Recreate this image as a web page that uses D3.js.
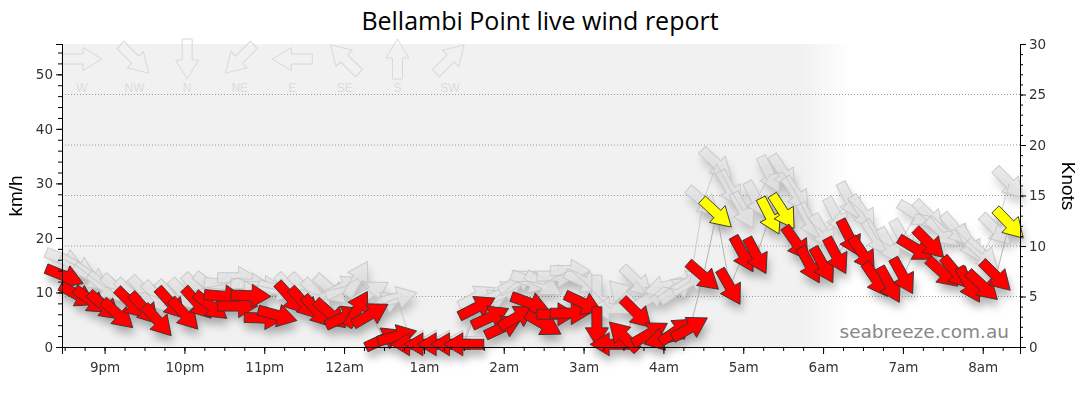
<!DOCTYPE html>
<html>
<head>
<meta charset="utf-8">
<script src="https://cdn.jsdelivr.net/npm/d3@7"></script>
<style>
  html, body { margin: 0; padding: 0; background: #fff; }
  svg { display: block; font-family: "Liberation Sans", Arial, sans-serif; }
  .axis text { font-family: "DejaVu Sans", Verdana, sans-serif; font-size: 13.5px; fill: #333; }
  .axis path, .axis line { stroke: #000; }
</style>
</head>
<body>
<div id="chart"></div>
<script>
// Observation times (10 minute readings, evening to morning)
const times = [
  "20:30","20:40","20:50","21:00","21:10","21:20","21:30","21:40","21:50",
  "22:00","22:10","22:20","22:30","22:40","22:50","23:00","23:10","23:20","23:30","23:40","23:50",
  "00:00","00:10","00:20","00:30","00:40","00:50","01:00","01:10","01:20","01:30","01:40","01:50",
  "02:00","02:10","02:20","02:30","02:40","02:50","03:00","03:10","03:20","03:30","03:40","03:50",
  "04:00","04:10","04:20","04:30","04:40","04:50","05:00","05:10","05:20","05:30","05:40","05:50",
  "06:00","06:10","06:20","06:30","06:40","06:50","07:00","07:10","07:20","07:30","07:40","07:50",
  "08:00","08:10","08:20"
];

// Average wind speed (km/h)
const windKmh = [
  13, 9.5, 8.5, 7.5, 6, 8, 7, 4.8, 8,
  6, 8, 7.5, 9.3, 7.5, 9.4, 5.3, 5.8, 9, 8, 6.5, 6,
  5.5, 7, 6, 1.5, 2, 0.5, 0.5, 0.5, 0.5, 0.5, 7.3, 5.5,
  3.7, 5.5, 8, 4.2, 6, 6.2, 8, 3.7, 0.5, 2, 6.2, 2.5,
  1.5, 3, 3.5, 13, 24.5, 11, 17, 16.7, 24, 24.8, 19, 15,
  15, 16.7, 20, 17, 12.3, 11.4, 13, 18, 19, 13.6, 13.6, 11.4,
  11.2, 13, 22.6
];

// Gust speed (km/h)
const gustKmh = [
  16, 14.7, 12.8, 11, 10.5, 9.6, 10, 9, 9.2,
  9.5, 10.5, 11, 11.5, 12.7, 11.5, 11, 10.5, 10.5, 10.5, 9.5, 10.5,
  11, 12.5, 10, 8, 9, 1, 1, 1, 1, 1, 9.2, 8.5,
  10, 12, 12, 11.5, 13, 14, 12, 9.5, 7, 9.5, 12, 9,
  11, 10.5, 12, 26.6, 33.6, 29, 25, 27, 31.6, 32, 28, 23,
  21, 24, 26.8, 24.6, 20, 18.5, 20, 24.4, 24, 21, 21.5, 19,
  17, 21.5, 30
];

// Direction the wind blows from (degrees)
const windDir = [
  292, 298, 305, 310, 312, 315, 318, 318, 318,
  318, 318, 308, 275, 270, 272, 272, 285, 318, 318, 318, 312,
  245, 210, 240, 245, 255, 90, 90, 90, 90, 90, 243, 245,
  245, 240, 290, 300, 270, 270, 295, 0, 90, 135, 315, 240,
  75, 235, 240, 311, 313, 330, 331, 332, 333, 327, 325, 332,
  331, 332, 333, 326, 326, 331, 331, 301, 315, 312, 320, 330,
  313, 315, 316
];

// Compass legend along the top
const legendLabels = ["W", "NW", "N", "NE", "E", "SE", "S", "SW"];
const legendDirs = [270, 315, 0, 45, 90, 135, 180, 225];

const kmhTicks = [0, 10, 20, 30, 40, 50];
const knotTicks = [0, 5, 10, 15, 20, 25, 30];
const nightEnd = "06:00";

document.addEventListener('DOMContentLoaded', function() {
    const W = 1080, H = 414;
    const margin = {top: 44, right: 60, bottom: 67, left: 62};
    const KMH_PER_KNOT = 1.852;

    // times after midnight belong to the next day
    function toDate(t) {
        const [h, m] = t.split(":").map(Number);
        return new Date(2024, 0, h >= 12 ? 1 : 2, h, m);
    }

    const data = times.map((t, i) => ({
        date: toDate(t), speed: windKmh[i], gust: gustKmh[i], dir: windDir[i]
    }));

    const svg = d3.select("#chart").append("svg")
        .attr("width", W).attr("height", H);

    const defs = svg.append("defs");

    const x = d3.scaleTime()
        .domain([new Date(2024, 0, 1, 20, 28), new Date(2024, 0, 2, 8, 28)])
        .range([margin.left, W - margin.right]);

    const yKn = d3.scaleLinear().domain([0, 30]).range([H - margin.bottom, margin.top]);
    const yKmh = d3.scaleLinear().domain([0, 30 * KMH_PER_KNOT]).range([H - margin.bottom, margin.top]);

    // Night shading fading out around sunrise
    const x0 = margin.left, x1 = W - margin.right;
    const fadeA = (x(d3.timeMinute.offset(toDate(nightEnd), -15)) - x0) / (x1 - x0);
    const fadeB = (x(d3.timeMinute.offset(toDate(nightEnd), 20)) - x0) / (x1 - x0);
    const grad = defs.append("linearGradient")
        .attr("id", "night")
        .attr("x1", 0).attr("x2", 1).attr("y1", 0).attr("y2", 0);
    grad.append("stop").attr("offset", fadeA).attr("stop-color", "#f1f1f1");
    grad.append("stop").attr("offset", fadeB).attr("stop-color", "#ffffff");

    svg.append("rect")
        .attr("x", x0).attr("y", margin.top)
        .attr("width", x1 - x0).attr("height", H - margin.bottom - margin.top)
        .attr("fill", "url(#night)");

    // Soft shadow, applied to one layer under all the arrows
    const shadow = defs.append("filter")
        .attr("id", "shadow")
        .attr("x", "-10%").attr("y", "-20%").attr("width", "120%").attr("height", "140%");
    shadow.append("feGaussianBlur").attr("in", "SourceAlpha").attr("stdDeviation", 4.5).attr("result", "blur");
    shadow.append("feOffset").attr("in", "blur").attr("dx", 2).attr("dy", 7).attr("result", "off");
    shadow.append("feFlood").attr("flood-color", "#000").attr("flood-opacity", 0.3).attr("result", "col");
    shadow.append("feComposite").attr("in", "col").attr("in2", "off").attr("operator", "in");

    // Dotted grid at knot intervals
    svg.append("g").selectAll("line")
        .data(knotTicks.filter(d => d > 0 && d < 30))
        .enter().append("line")
        .attr("x1", x0).attr("x2", x1)
        .attr("y1", d => yKn(d)).attr("y2", d => yKn(d))
        .attr("stroke", "#999")
        .attr("stroke-width", 1)
        .attr("stroke-dasharray", "1,2");

    // Block arrow pointing right, centred on origin
    const arrowPath = "M-20,-5 L1,-5 L1,-11.5 L20,0 L1,11.5 L1,5 L-20,5 Z";
    const rot = dir => dir + 90;

    // Compass legend
    const lx = d3.scalePoint().domain(legendLabels).range([82, 450]);
    const legend = svg.append("g");
    legendLabels.forEach((lab, i) => {
        legend.append("path")
            .attr("d", arrowPath)
            .attr("transform", `translate(${lx(lab)},59) rotate(${rot(legendDirs[i])})`)
            .attr("fill", "none")
            .attr("stroke", "#d8d8d8")
            .attr("stroke-width", 1);
        legend.append("text")
            .attr("x", lx(lab)).attr("y", 92)
            .attr("text-anchor", "middle")
            .style("font-size", "12px")
            .attr("fill", "#dcdcdc")
            .text(lab);
    });

    // Watermark
    svg.append("text")
        .attr("x", 1009).attr("y", 338)
        .attr("text-anchor", "end")
        .style("font-family", "'DejaVu Sans', Verdana, sans-serif")
        .style("font-size", "18.5px")
        .attr("fill", "#888")
        .text("seabreeze.com.au");

    const gustPos = d => `translate(${x(d.date)},${yKmh(d.gust)}) rotate(${rot(d.dir)})`;
    const windPos = d => `translate(${x(d.date)},${yKmh(d.speed)}) rotate(${rot(d.dir)})`;

    // Shadow layer
    const shade = svg.append("g").attr("filter", "url(#shadow)");
    shade.selectAll("path.g").data(data).enter().append("path")
        .attr("class", "g").attr("d", arrowPath).attr("transform", gustPos).attr("fill", "#000").attr("fill-opacity", 0.6);
    shade.selectAll("path.w").data(data).enter().append("path")
        .attr("class", "w").attr("d", arrowPath).attr("transform", windPos).attr("fill", "#000");

    // Gust arrows
    svg.append("g").selectAll("path")
        .data(data).enter().append("path")
        .attr("d", arrowPath)
        .attr("transform", gustPos)
        .attr("fill", "#e4e4e4")
        .attr("fill-opacity", 0.8)
        .attr("stroke", "#c2c2c2")
        .attr("stroke-opacity", 0.8);

    // Thin joining lines
    const lineSpeed = d3.line().x(d => x(d.date)).y(d => yKmh(d.speed));
    const lineGust = d3.line().x(d => x(d.date)).y(d => yKmh(d.gust));
    svg.append("path").datum(data).attr("d", lineGust)
        .attr("fill", "none").attr("stroke", "#bbb").attr("stroke-width", 0.7);
    svg.append("path").datum(data).attr("d", lineSpeed)
        .attr("fill", "none").attr("stroke", "#999").attr("stroke-width", 0.7);

    // Wind arrows (yellow from 12 knots)
    svg.append("g").selectAll("path")
        .data(data).enter().append("path")
        .attr("d", arrowPath)
        .attr("transform", windPos)
        .attr("fill", d => d.speed >= 12 * KMH_PER_KNOT ? "#ffff00" : "#ff0000")
        .attr("stroke", "#333")
        .attr("stroke-width", 0.85);

    // Axes
    const bottom = H - margin.bottom;
    svg.append("g").attr("class", "axis")
        .attr("transform", `translate(0,${bottom})`)
        .call(d3.axisBottom(x).ticks(d3.timeMinute.every(15)).tickSize(4).tickFormat(""));
    svg.append("g").attr("class", "axis")
        .attr("transform", `translate(0,${bottom})`)
        .call(d3.axisBottom(x).ticks(d3.timeHour.every(1)).tickSize(7).tickPadding(8)
            .tickFormat(d => d3.timeFormat("%-I%p")(d).toLowerCase()));

    svg.append("g").attr("class", "axis")
        .attr("transform", `translate(${x0},0)`)
        .call(d3.axisLeft(yKmh).tickValues(d3.range(0, 56, 2)).tickSize(4).tickFormat(""));
    svg.append("g").attr("class", "axis")
        .attr("transform", `translate(${x0},0)`)
        .call(d3.axisLeft(yKmh).tickValues(kmhTicks).tickSize(6).tickPadding(3));

    svg.append("g").attr("class", "axis")
        .attr("transform", `translate(${x1},0)`)
        .call(d3.axisRight(yKn).tickValues(d3.range(0, 31, 1)).tickSize(3).tickFormat(""));
    svg.append("g").attr("class", "axis")
        .attr("transform", `translate(${x1},0)`)
        .call(d3.axisRight(yKn).tickValues(knotTicks).tickSize(6).tickPadding(3));

    svg.selectAll(".axis .domain").attr("stroke", "#000");

    // Axis titles
    svg.append("text")
        .attr("transform", "translate(22,196) rotate(-90)")
        .attr("text-anchor", "middle")
        .style("font-size", "19px")
        .attr("fill", "#000")
        .text("km/h");
    svg.append("text")
        .attr("transform", "translate(1062,186) rotate(90)")
        .attr("text-anchor", "middle")
        .style("font-size", "19px")
        .attr("fill", "#000")
        .text("Knots");

    // Title
    svg.append("text")
        .attr("x", 540).attr("y", 30)
        .attr("text-anchor", "middle")
        .style("font-family", "'Open Sans', sans-serif")
        .style("font-size", "25px")
        .attr("fill", "#000")
        .text("Bellambi Point live wind report");
});
</script>
</body>
</html>
